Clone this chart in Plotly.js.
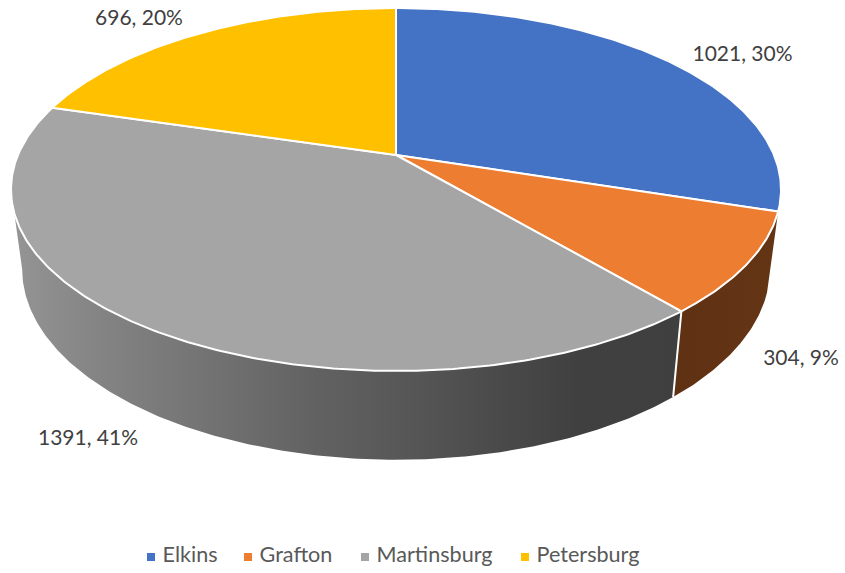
<!DOCTYPE html>
<html><head><meta charset="utf-8">
<script src="https://cdn.plot.ly/plotly-3.0.1.min.js"></script>
<style>html,body{margin:0;padding:0;background:#fff}#c{width:845px;height:573px}</style>
</head><body><div id="c"></div>
<script>
const categories = ['Elkins','Grafton','Martinsburg','Petersburg'];
const values = [1021,304,1391,696];
const percents = [30,9,41,20];
const colors = ['#4472C4','#ED7D31','#A5A5A5','#FFC000'];

// label and legend placement (pixels on the hidden axes)
const labelX = [742.5,801,88,139], labelY = [56,360,440,20];
const legendX = [151,248,365,525], legendY = 557;
const FONT = 'Lato, Carlito, sans-serif', TEXT = '#595959', LABEL = '#404040';

// projection of the tilted disc
const cx=396, cy=155, a=378, b=174.9, k=0.19;
const total = values.reduce((s,v)=>s+v,0);
const angle = f => f*2*Math.PI;
function rimTop(t){const X=Math.sin(t),Y=Math.cos(t),w=1+k*Y;return [cx+a*X/w, cy-b*Y/w];}
function rimBot(t){const p=rimTop(t);return [cx+(p[0]-cx)*0.971, 233+1.05*(p[1]-cy)];}
function arc(fn,t0,t1){const n=Math.max(2,Math.ceil(Math.abs(t1-t0)/0.01)),o=[];
  for(let i=0;i<=n;i++)o.push(fn(t0+(t1-t0)*i/n));return o;}

let cum=0; const starts=values.map(v=>{const s=cum;cum+=v/total;return s;});
const traces=[];
function wall(t0,t1,grad){
  const pts=arc(rimTop,t0,t1).concat(arc(rimBot,t1,t0)); pts.push(pts[0]);
  traces.push({type:'scatter',mode:'lines',x:pts.map(p=>p[0]),y:pts.map(p=>p[1]),fill:'toself',
    line:{width:0,color:'rgba(0,0,0,0)'},fillgradient:grad,hoverinfo:'skip',showlegend:false});
}
const tGraftonStart=angle(starts[1]), tMartStart=angle(starts[2]);
const tSilh=2*Math.PI-Math.acos(-k);
wall(tGraftonStart,tMartStart,{type:'horizontal',start:673,stop:778,
  colorscale:[[0,'#5F3113'],[1,'#643515']]});
wall(tMartStart,tSilh,{type:'horizontal',start:11,stop:681,
  colorscale:[[0,'#959595'],[0.13,'#848484'],[0.3,'#727272'],[0.45,'#626262'],[0.6,'#565656'],[0.75,'#484848'],[0.85,'#404040'],[1,'#3F3F3F']]});
// divider on the wall
{const p=rimTop(tMartStart),q=rimBot(tMartStart);
 traces.push({type:'scatter',mode:'lines',x:[p[0],q[0]],y:[p[1],q[1]],line:{color:'#fff',width:2},hoverinfo:'skip',showlegend:false});}
// top face slices
categories.forEach((c,i)=>{
  const t0=angle(starts[i]), t1=angle(starts[i]+values[i]/total);
  const pts=[[cx,cy]].concat(arc(rimTop,t0,t1)); pts.push([cx,cy]);
  traces.push({type:'scatter',mode:'lines',name:c,x:pts.map(p=>p[0]),y:pts.map(p=>p[1]),fill:'toself',
    fillcolor:colors[i],line:{color:'#fff',width:2},hoverinfo:'skip',showlegend:false});
});
// data labels
traces.push({type:'scatter',mode:'text',x:labelX,y:labelY,
  text:values.map((v,i)=>v+', '+percents[i]+'%'),textposition:'middle center',
  textfont:{family:FONT,size:21,color:LABEL},hoverinfo:'skip',showlegend:false});
// legend keys
categories.forEach((c,i)=>{
  traces.push({type:'scatter',mode:'markers+text',x:[legendX[i]],y:[legendY],text:[' '+c],textposition:'middle right',
    marker:{symbol:'square',size:8,color:colors[i]},textfont:{family:FONT,size:21.6,color:TEXT},hoverinfo:'skip',showlegend:false});
});
Plotly.newPlot('c',traces,{
  width:845,height:573,margin:{l:0,r:0,t:0,b:0},paper_bgcolor:'#fff',plot_bgcolor:'#fff',showlegend:false,
  xaxis:{range:[0,845],visible:false,fixedrange:true},
  yaxis:{range:[573,0],visible:false,fixedrange:true},hovermode:false
},{displayModeBar:false,staticPlot:true});
</script></body></html>
